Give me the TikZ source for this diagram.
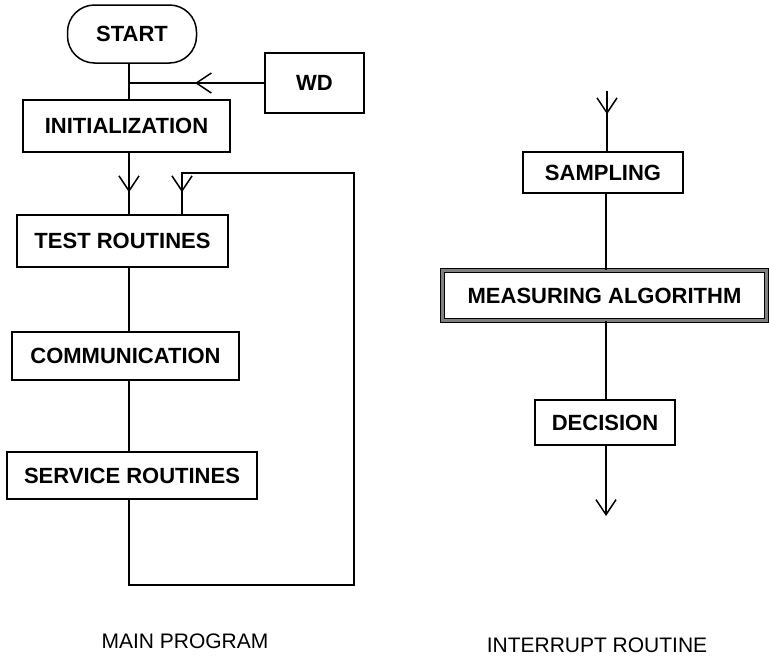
\documentclass[tikz,border=0pt]{standalone}
\usepackage{fontspec}
\setmainfont{Liberation Sans}
\usepackage{tikz}
\usetikzlibrary{arrows.meta}
\usetikzlibrary{decorations.markings}

\tikzset{
    block/.style={draw, rectangle, line width=1.5pt, inner sep=0pt,
        font=\bfseries\fontsize{22}{26}\selectfont},
    caption/.style={font=\fontsize{21}{25}\selectfont},
    barb/.tip={Straight Barb[length=15pt, width=20pt, line width=1.5pt]},
    midarrow/.style={postaction={decorate}, decoration={markings,
        mark=at position #1 with {\arrow{barb}}}}
}

\begin{document}
\begin{tikzpicture}[x=1pt, y=-1pt, line width=1.5pt]
        \useasboundingbox (0,0) rectangle (769,659);
        \coordinate (axis) at (129,0);
        \coordinate (raxis) at (606,0);
        \node[block, rounded corners=27pt, minimum width=129pt, minimum height=58pt] (start) at (132,34) {START};
        \node[block, minimum width=99pt, minimum height=60pt] (wd) at (314.5,83) {WD};
        \node[block, minimum width=207pt, minimum height=52pt] (init) at (126.5,126) {INITIALIZATION};
        \node[block, minimum width=211pt, minimum height=52pt] (test) at (122.5,241) {TEST ROUTINES};
        \node[block, minimum width=227pt, minimum height=48pt] (comm) at (125.5,356) {COMMUNICATION};
        \node[block, minimum width=250pt, minimum height=47pt] (serv) at (132,475.5) {SERVICE ROUTINES};
        \coordinate (loop) at (354,585);
        \coordinate (loopin) at (182,173);
        \draw (start.south -| axis) -- (init.north -| axis);
        \draw[midarrow=-66pt] (wd) -- (wd -| axis);
        \draw[midarrow=-22pt] (init.south -| axis) -- (test.north -| axis);
        \draw (test.south -| axis) -- (comm.north -| axis);
        \draw (comm.south -| axis) -- (serv.north -| axis);
        \draw[midarrow=-22pt] (serv.south -| axis) |- (loop) |- (loopin) -- (loopin |- test.north);
        \node[caption] (main) at (185,641) {MAIN PROGRAM};

        \coordinate (irin) at (607,91);
        \node[block, minimum width=160pt, minimum height=41pt] (samp) at (603,172.5) {SAMPLING};
        \node[block, line width=1.2pt, double=black!50, double distance=3pt, minimum width=324pt, minimum height=50pt] (meas) at (604.5,295.5) {MEASURING ALGORITHM};
        \node[block, minimum width=140pt, minimum height=45pt] (dec) at (605,422.5) {DECISION};
        \coordinate (irout) at (606,516);
        \draw[midarrow=-37pt] (irin) -- (irin |- samp.north);
        \draw (samp.south -| raxis) -- (meas.north -| raxis);
        \draw (meas.south -| raxis) -- (dec.north -| raxis);
        \draw[-barb] (dec.south -| raxis) -- (irout);
        \node[caption] (intr) at (597,645) {INTERRUPT ROUTINE};
    \end{tikzpicture}
\end{document}
